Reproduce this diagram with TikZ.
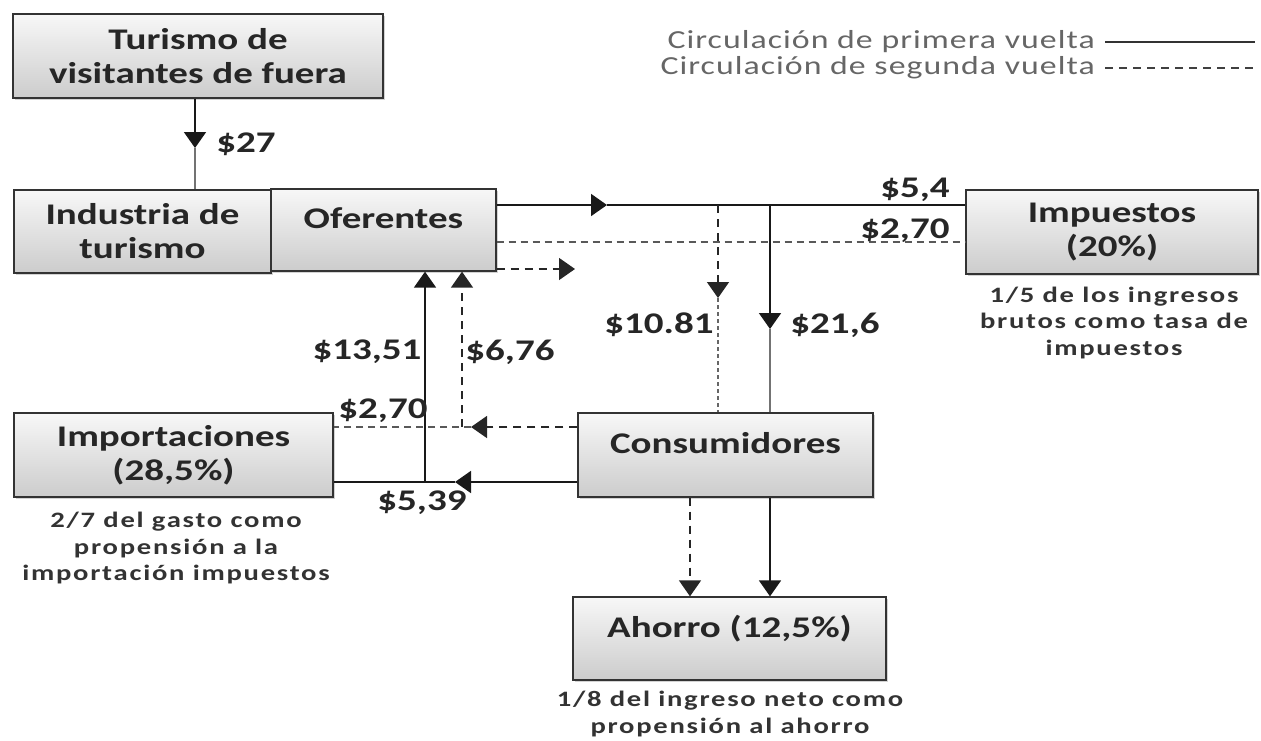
\documentclass[tikz,border=0pt]{standalone}
\usepackage{fontspec}
\setmainfont{Carlito}
\newfontfamily\boxfont{Carlito}[FakeStretch=1.3]
\newfontfamily\legfont{Carlito}[FakeStretch=1.3,LetterSpace=4]
\newfontfamily\annfont{Carlito}[FakeStretch=1.3,LetterSpace=8]
\usetikzlibrary{arrows.meta,shadows}
\begin{document}
\begin{tikzpicture}[x=1pt,y=-1pt,
  box/.style={draw=black!80, line width=1.3pt, top color=gray!6, bottom color=gray!40,
    drop shadow={opacity=0.35, shadow xshift=2pt, shadow yshift=-2pt},
    align=center, inner sep=0pt, font=\boxfont\bfseries\fontsize{30}{34}\selectfont, text=black!85},
  lbl/.style={font=\boxfont\bfseries\fontsize{30}{34}\selectfont, text=black!85, inner sep=0pt},
  ann/.style={font=\annfont\bfseries\fontsize{22}{26.5}\selectfont, align=center, text=black!80, inner sep=0pt},
  leg/.style={font=\legfont\fontsize{26}{26}\selectfont, text=black!60, inner sep=0pt, anchor=east},
  solidln/.style={line width=1.8pt, draw=black!90},
  thinln/.style={line width=1.3pt, draw=black!55},
  dashln/.style={line width=1.5pt, draw=black!85, dash pattern=on 8pt off 6pt},
  thindash/.style={line width=1.1pt, draw=black!65, dash pattern=on 7pt off 5pt},
  dotln/.style={line width=1.4pt, draw=black!60, dash pattern=on 4pt off 3pt},
  tip/.style={-{Triangle[length=16pt,width=22pt]}},
]
\useasboundingbox (0,0) rectangle (1261,740);

% boxes
\node[box, minimum width=370pt, minimum height=84pt] (tur) at (198,56) {Turismo de\\visitantes de fuera};
\node[box, minimum width=257pt, minimum height=83pt] (ind) at (142.5,231.5) {Industria de\\turismo};
\node[box, minimum width=225pt, minimum height=82pt] (ofe) at (383.5,230) {Oferentes\\[-20pt]\strut};
\node[box, minimum width=292pt, minimum height=84pt] (imp) at (1112,232) {Impuestos\\(20\%)};
\node[box, minimum width=319pt, minimum height=84pt] (mpt) at (173.5,455) {Importaciones\\(28,5\%)};
\node[box, minimum width=295pt, minimum height=84pt] (con) at (725.5,455) {Consumidores\\[-20pt]\strut};
\node[box, minimum width=313pt, minimum height=83pt] (aho) at (729.5,638.5) {Ahorro (12,5\%)\\[-20pt]\strut};

% notes
\node[ann] (impn) at (1114,323) {1/5 de los ingresos\\brutos como tasa de\\impuestos};
\node[ann] (mptn) at (176,548) {2/7 del gasto como\\propensión a la\\importación impuestos};
\node[ann] (ahon) at (730,714) {1/8 del ingreso neto como\\propensión al ahorro};

% legend
\node[leg] (l1) at (1095,42) {Circulación de primera vuelta};
\node[leg] (l2) at (1095,68) {Circulación de segunda vuelta};
\coordinate (l1s) at (1105,42); \coordinate (l1e) at (1255,42);
\coordinate (l2s) at (1105,68); \coordinate (l2e) at (1255,68);
\draw[line width=1.5pt, black!80] (l1s) -- (l1e);
\draw[line width=1.3pt, black!75, dash pattern=on 8pt off 6pt] (l2s) -- (l2e);

% helper coordinates
\coordinate (x27) at (195,0);
\coordinate (a27) at (195,148);
\coordinate (y205) at (0,205);
\coordinate (y242) at (0,242);
\coordinate (y269) at (0,269);
\coordinate (y427) at (0,427);
\coordinate (y482) at (0,482);
\coordinate (a2) at (607,205);
\coordinate (a4) at (575,269);
\coordinate (j5) at (718,205);
\coordinate (a5) at (718,298);
\coordinate (j6) at (770,205);
\coordinate (a6) at (770,329);
\coordinate (j7) at (425,482);
\coordinate (j8) at (462,427);
\coordinate (a9) at (471,427);
\coordinate (a10) at (455,482);
\coordinate (x11) at (690,0);
\coordinate (x12) at (770,0);

% tourism inflow
\draw[solidln,tip] (x27 |- tur.south) -- (a27);
\draw[thinln] (a27) -- (x27 |- ind.north);

% oferentes -> impuestos
\draw[solidln,tip] (ofe.east |- y205) -- (a2);
\draw[solidln] (a2) -- (imp.west |- y205);
\draw[thindash] (ofe.east |- y242) -- (imp.west |- y242);
\draw[dashln,tip] (ofe.east |- y269) -- (a4);

% down to consumidores
\draw[dashln,tip] (j5) -- (a5);
\draw[dotln] (a5) -- (j5 |- con.north);
\draw[solidln,tip] (j6) -- (a6);
\draw[thinln] (a6) -- (j6 |- con.north);

% consumidores -> importaciones
\draw[dashln,tip] (con.west |- y427) -- (a9);
\draw[thindash] (a9) -- (mpt.east |- y427);
\draw[solidln,tip] (con.west |- y482) -- (a10);
\draw[solidln] (a10) -- (mpt.east |- y482);

% back up to oferentes
\draw[solidln,tip] (j7) -- (j7 |- ofe.south);
\draw[dashln,tip] (j8) -- (j8 |- ofe.south);

% consumidores -> ahorro
\draw[dashln,tip] (x11 |- con.south) -- (x11 |- aho.north);
\draw[solidln,tip] (x12 |- con.south) -- (x12 |- aho.north);

% labels
\node[lbl] (v27) at (246,144) {\$27};
\node[lbl] (v54) at (915,190) {\$5,4};
\node[lbl] (v270a) at (905,231) {\$2,70};
\node[lbl] (v1081) at (659,325) {\$10.81};
\node[lbl] (v216) at (835,325) {\$21,6};
\node[lbl] (v1351) at (367,352) {\$13,51};
\node[lbl] (v676) at (510,352) {\$6,76};
\node[lbl] (v270b) at (383,411) {\$2,70};
\node[lbl] (v539) at (422,503) {\$5,39};
\end{tikzpicture}
\end{document}
